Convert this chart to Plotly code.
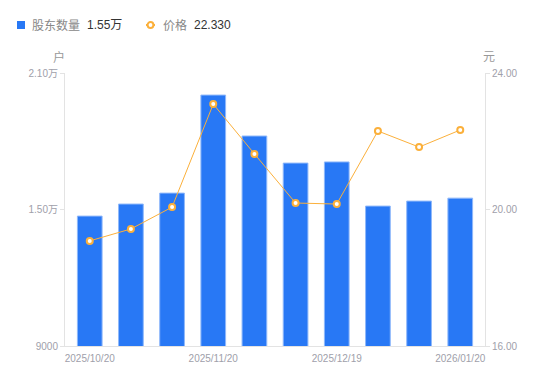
import plotly.graph_objects as go

dates = ["2025/10/20", "2025/10/31", "2025/11/10", "2025/11/20", "2025/11/28",
         "2025/12/10", "2025/12/19", "2025/12/31", "2026/01/09", "2026/01/20"]
holders = [14710, 15240, 15720, 20030, 18230, 17040, 17090, 15150, 15370, 15500]
price = [19.08, 19.43, 20.07, 23.09, 21.63, 20.19, 20.16, 22.30, 21.83, 22.33]
left_ticks = [9000, 15000, 21000]
left_labels = ["9000", "1.50万", "2.10万"]
right_ticks = [16, 20, 24]
right_labels = ["16.00", "20.00", "24.00"]
shown_dates = ["2025/10/20", "2025/11/20", "2025/12/19", "2026/01/20"]
series_names = ["股东数量", "价格"]
latest_labels = ["1.55万", "22.330"]

BLUE = "#2878f5"
ORANGE = "#fbb03b"
FONT = "Liberation Sans, Noto Sans CJK SC, sans-serif"

fig = go.Figure()
fig.add_trace(go.Bar(
    x=dates, y=holders, yaxis="y",
    marker=dict(color=BLUE, line=dict(color="#8fb8fa", width=1)),
    width=0.6, name=series_names[0],
))
fig.add_trace(go.Scatter(
    x=dates, y=price, yaxis="y2", mode="lines+markers",
    line=dict(color=ORANGE, width=1),
    marker=dict(symbol="circle", size=6, color="white", line=dict(color=ORANGE, width=2)),
    name=series_names[1],
))

axis_common = dict(
    showgrid=False, zeroline=False, showline=True, linecolor="#e3e3e3", linewidth=1,
    ticks="outside", ticklen=4, tickcolor="#e3e3e3",
    tickfont=dict(color="#a0a0aa", size=10, family=FONT),
)

# custom legend (paper coordinates relative to plot area)
LY = 1.1758
annotations = [
    dict(text=series_names[0], x=-0.0835, y=LY, font=dict(size=12, color="#888", family=FONT)),
    dict(text=latest_labels[0], x=0.0475, y=LY, font=dict(size=12, color="#333", family=FONT)),
    dict(text=series_names[1], x=0.2285, y=LY, font=dict(size=12, color="#888", family=FONT)),
    dict(text=latest_labels[1], x=0.3023, y=LY, font=dict(size=12, color="#333", family=FONT)),
]
for a in annotations:
    a.update(xref="paper", yref="paper", xanchor="left", yanchor="middle", showarrow=False)
annotations += [
    dict(text="户", xref="paper", yref="paper", x=-0.015, y=1.0586,
         xanchor="center", yanchor="middle", showarrow=False,
         font=dict(size=12, color="#999", family=FONT)),
    dict(text="元", xref="paper", yref="paper", x=1.01, y=1.0586,
         xanchor="center", yanchor="middle", showarrow=False,
         font=dict(size=12, color="#999", family=FONT)),
]
shapes = [
    dict(type="rect", xref="paper", yref="paper", x0=-0.1143, x1=-0.0952, y0=1.1612, y1=1.1905,
         fillcolor=BLUE, line=dict(width=0)),
    dict(type="line", xref="paper", yref="paper", x0=0.1929, x1=0.2143, y0=LY, y1=LY,
         line=dict(color=ORANGE, width=2)),
    dict(type="circle", xref="paper", yref="paper", x0=0.1967, x1=0.2105, y0=1.1648, y1=1.1868,
         fillcolor="white", line=dict(color=ORANGE, width=2)),
]

fig.update_layout(
    width=550, height=381,
    margin=dict(l=57, r=73, t=65, b=43),
    plot_bgcolor="white", paper_bgcolor="white",
    font=dict(family=FONT, size=12, color="#666"),
    xaxis=dict(
        type="category", showgrid=False, zeroline=False, showline=True,
        linecolor="#e3e3e3", linewidth=1, ticks="", ticklabelstandoff=3,
        tickvals=shown_dates, ticktext=shown_dates,
        tickfont=dict(color="#a0a0aa", size=10, family=FONT),
    ),
    yaxis=dict(range=[9000, 21000], tickvals=left_ticks, ticktext=left_labels,
               side="left", **axis_common),
    yaxis2=dict(range=[16, 24], tickvals=right_ticks, ticktext=right_labels,
                side="right", overlaying="y", **axis_common),
    showlegend=False,
    annotations=annotations,
    shapes=shapes,
)

fig.write_html("out.html")
